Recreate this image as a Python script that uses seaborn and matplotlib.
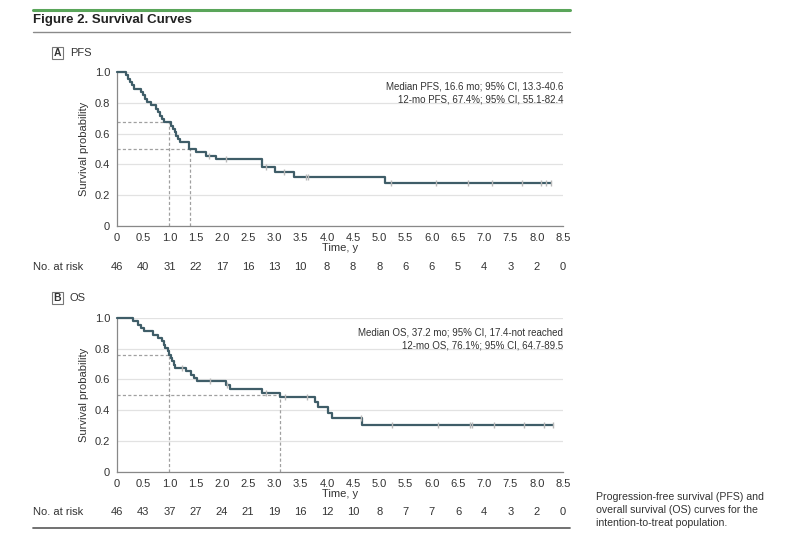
import numpy as np
import pandas as pd
import matplotlib
matplotlib.use('Agg')
import matplotlib.pyplot as plt
import seaborn as sns
from matplotlib.patches import Rectangle
from matplotlib.lines import Line2D

# ============================================
# Data
# ============================================
PFS_TIME = [0, 0.18, 0.21, 0.25, 0.28, 0.33, 0.46, 0.50, 0.54, 0.57, 0.64, 0.75, 0.78,
            0.82, 0.85, 0.89, 1.02, 1.06, 1.10, 1.13, 1.17, 1.21, 1.37, 1.50, 1.70,
            1.89, 2.76, 3.02, 3.38, 5.10]
PFS_SURV = [1.0, 0.978, 0.957, 0.935, 0.913, 0.891, 0.870, 0.848, 0.826, 0.804, 0.783,
            0.761, 0.739, 0.717, 0.696, 0.674, 0.652, 0.630, 0.609, 0.587, 0.565, 0.543,
            0.500, 0.478, 0.456, 0.433, 0.380, 0.349, 0.316, 0.277]
PFS_CENSOR = [1.76, 2.08, 2.84, 3.19, 3.60, 3.64, 5.22, 6.08, 6.69, 7.14, 7.71, 8.09, 8.18, 8.27]

OS_TIME = [0, 0.30, 0.40, 0.46, 0.51, 0.69, 0.78, 0.86, 0.89, 0.92, 0.98, 1.00, 1.02,
           1.05, 1.08, 1.10, 1.32, 1.41, 1.47, 1.52, 2.08, 2.16, 2.76, 3.10, 3.77,
           3.84, 4.03, 4.10, 4.67]
OS_SURV = [1.0, 0.978, 0.957, 0.935, 0.913, 0.891, 0.870, 0.848, 0.826, 0.804, 0.783,
           0.761, 0.739, 0.717, 0.696, 0.674, 0.652, 0.630, 0.609, 0.587, 0.565, 0.536,
           0.512, 0.485, 0.452, 0.418, 0.381, 0.348, 0.305]
OS_CENSOR = [1.24, 1.78, 2.10, 2.84, 3.21, 3.63, 4.65, 5.25, 6.11, 6.72, 6.77, 7.18, 7.75, 8.13, 8.31]

RISK_TIMES = [0, 0.5, 1.0, 1.5, 2.0, 2.5, 3.0, 3.5, 4.0, 4.5, 5.0, 5.5, 6.0, 6.5, 7.0, 7.5, 8.0, 8.5]
PFS_AT_RISK = [46, 40, 31, 22, 17, 16, 13, 10, 8, 8, 8, 6, 6, 5, 4, 3, 2, 0]
OS_AT_RISK = [46, 43, 37, 27, 24, 21, 19, 16, 12, 10, 8, 7, 7, 6, 4, 3, 2, 0]

PFS_MEDIAN = 16.6 / 12
PFS_12MO = 0.674
OS_MEDIAN = 37.2 / 12
OS_12MO = 0.761

PFS_NOTE = ['Median PFS, 16.6 mo; 95% CI, 13.3-40.6', '12-mo PFS, 67.4%; 95% CI, 55.1-82.4']
OS_NOTE = ['Median OS, 37.2 mo; 95% CI, 17.4-not reached', '12-mo OS, 76.1%; 95% CI, 64.7-89.5']

CAPTION = ['Progression-free survival (PFS) and',
           'overall survival (OS) curves for the',
           'intention-to-treat population.']

# ============================================
# Style
# ============================================
sns.set_style('white')
plt.rcParams['font.family'] = ['Liberation Sans Narrow', 'Liberation Sans', 'DejaVu Sans']
CURVE = '#3f5d68'
CENSOR = '#b8b8b8'
DASH = '#a0a0a0'
TXT = '#333333'

W, H = 800, 552
fig = plt.figure(figsize=(W / 100, H / 100), dpi=100)


def fx(px):
    return px / W


def fy(py):
    return 1 - py / H


def draw_panel(ax, times, surv, censor, median, mo12, notes):
    end = max(censor)
    df = pd.DataFrame({'t': times + [end], 's': surv + [surv[-1]]})
    sns.lineplot(data=df, x='t', y='s', drawstyle='steps-post', estimator=None,
                 color=CURVE, lw=1.6, ax=ax, clip_on=False, zorder=3)
    idx = np.searchsorted(times, censor, side='right') - 1
    cy = np.array(surv)[idx]
    sns.scatterplot(x=censor, y=cy, marker='|', s=22, color=CENSOR, linewidth=1.0,
                    ax=ax, zorder=4, clip_on=False)

    # reference lines for 12-mo and median
    kw = dict(color=DASH, lw=0.9, dashes=(2.5, 1.8))
    ax.plot([0, 1.0], [mo12, mo12], **kw)
    ax.plot([1.0, 1.0], [0, mo12], **kw)
    ax.plot([0, median], [0.5, 0.5], **kw)
    ax.plot([median, median], [0, 0.5], **kw)

    ax.set_xlim(0, 8.5)
    ax.set_ylim(0, 1.0)
    ax.set_xticks(RISK_TIMES)
    ax.set_xticklabels(['0'] + [f'{v:.1f}' for v in RISK_TIMES[1:]])
    ax.set_yticks([0, 0.2, 0.4, 0.6, 0.8, 1.0])
    ax.set_yticklabels(['0', '0.2', '0.4', '0.6', '0.8', '1.0'])
    ax.yaxis.grid(True, color='#e2e2e2', lw=0.9)
    ax.set_axisbelow(True)
    for s in ['top', 'right']:
        ax.spines[s].set_visible(False)
    for s in ['left', 'bottom']:
        ax.spines[s].set_color('#888888')
        ax.spines[s].set_linewidth(0.9)
    ax.tick_params(direction='out', length=3, width=0.8, color='#888888',
                   labelsize=8, labelcolor=TXT, pad=2)
    ax.set_xlabel('Time, y', fontsize=8, color=TXT, labelpad=0)
    ax.set_ylabel('Survival probability', fontsize=8, color=TXT, labelpad=4)
    ax.text(8.5, 0.94, notes[0] + '\n' + notes[1], ha='right', va='top', fontsize=7.0,
            color=TXT, linespacing=1.45)


def panel_label(letter, name, y):
    fig.patches.append(Rectangle((fx(52), fy(y + 6)), 11 / W, 12 / H, transform=fig.transFigure,
                                 fill=False, ec='#777777', lw=0.8))
    fig.text(fx(57.5), fy(y), letter, ha='center', va='center', fontsize=7.5,
             fontweight='bold', color=TXT)
    fig.text(fx(70), fy(y), name, ha='left', va='center', fontsize=8, color=TXT)


def risk_row(counts, y):
    fig.text(fx(33), fy(y), 'No. at risk', ha='left', va='center', fontsize=8, color=TXT)
    for t, n in zip(RISK_TIMES, counts):
        xp = 117 + t / 8.5 * (563 - 117)
        fig.text(fx(xp), fy(y), str(n), ha='center', va='center', fontsize=8, color=TXT)


# header
fig.add_artist(Line2D([fx(33), fx(570)], [fy(10), fy(10)], color='#5aa55a', lw=2.2))
fig.text(fx(33), fy(20), 'Figure 2. Survival Curves', ha='left', va='center',
         fontsize=9.5, fontweight='bold', color='#222222')
fig.add_artist(Line2D([fx(33), fx(570)], [fy(32), fy(32)], color='#8a8a8a', lw=1.0))
fig.add_artist(Line2D([fx(33), fx(570)], [fy(528), fy(528)], color='#666666', lw=1.3))

# panel A
axA = fig.add_axes([fx(117), fy(226), (563 - 117) / W, (226 - 72) / H])
panel_label('A', 'PFS', 53)
draw_panel(axA, PFS_TIME, PFS_SURV, PFS_CENSOR, PFS_MEDIAN, PFS_12MO, PFS_NOTE)
risk_row(PFS_AT_RISK, 267)

# panel B
axB = fig.add_axes([fx(117), fy(471.7), (563 - 117) / W, (471.7 - 318) / H])
panel_label('B', 'OS', 298)
draw_panel(axB, OS_TIME, OS_SURV, OS_CENSOR, OS_MEDIAN, OS_12MO, OS_NOTE)
risk_row(OS_AT_RISK, 512)

# caption
for i, line in enumerate(CAPTION):
    fig.text(fx(596), fy(497 + i * 13), line, ha='left', va='center', fontsize=7.6,
             color='#333333')

fig.savefig('out.png', dpi=100)
